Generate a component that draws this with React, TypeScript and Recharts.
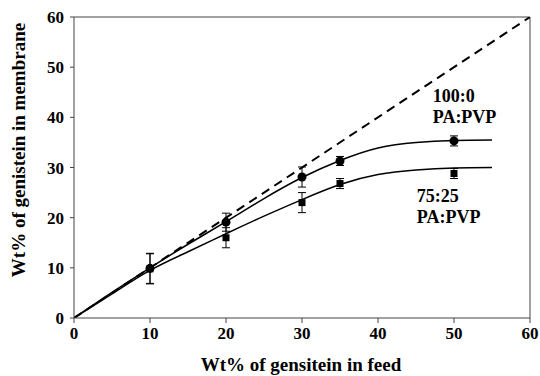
import {
  ComposedChart, Line, Scatter, ErrorBar, XAxis, YAxis, ReferenceLine, ReferenceDot, Label,
} from 'recharts';

// measured points, feed wt% vs membrane wt%
const feedPct = [10, 20, 30, 35, 50];
const pa100 = [9.9, 19.1, 28.1, 31.3, 35.3];
const pa100Err = [3, 1.8, 2, 0.9, 1];
const pa75 = [9.8, 16, 23, 26.8, 28.8];
const pa75Err = [3, 2, 2, 1, 1];

// fitted curves
const fitX = [0, 5, 10, 15, 20, 25, 30, 35, 40, 45, 50, 55];
const fit100 = [0, 5.1, 10, 14.7, 19.2, 23.8, 28, 31.4, 33.9, 35.0, 35.4, 35.5];
const fit75 = [0, 4.8, 9.5, 13.2, 16.8, 20.3, 23.6, 26.6, 28.6, 29.5, 29.9, 30.0];

// 1:1 reference line
const diagX = [0, 60];
const diagY = [0, 60];

const ticks = [0, 10, 20, 30, 40, 50, 60];

const pts = (ys: number[], errs: number[]) => feedPct.map((x, i) => ({ x, y: ys[i], err: errs[i] }));
const curve = (xs: number[], ys: number[]) => xs.map((x, i) => ({ x, y: ys[i] }));

const FONT = '"Liberation Serif", "Times New Roman", serif';
const tickStyle = { fill: '#000', fontSize: 17, fontWeight: 700, fontFamily: FONT };
const AXIS = '#444';

const Dot = (p: any) => <circle cx={p.cx} cy={p.cy} r={4.5} fill="#000" />;
const Sq = (p: any) => <rect x={p.cx - 3.5} y={p.cy - 3.5} width={7} height={7} fill="#000" />;

const note = (lines: string[]) => (p: any) => {
  const { x, y } = p.viewBox;
  return (
    <text x={x} y={y} fontFamily={FONT} fontWeight={700} fontSize={18} fill="#000">
      {lines.map((t, i) => (
        <tspan key={i} x={x} dy={i === 0 ? 0 : 21}>{t}</tspan>
      ))}
    </text>
  );
};

export default function App() {
  return (
    <div style={{ position: 'absolute', left: 0, top: 0 }}>
      <ComposedChart width={540} height={376} margin={{ top: 17, right: 10, bottom: 0, left: 14 }}>
        <XAxis
          type="number" dataKey="x" domain={[0, 60]} ticks={ticks} height={58}
          axisLine={{ stroke: AXIS }} tickLine={{ stroke: AXIS }} tickSize={5} tickMargin={4}
          tick={tickStyle} allowDataOverflow
        >
          <Label
            content={() => (
              <text x={301} y={371} textAnchor="middle" fontFamily={FONT} fontWeight={700} fontSize={19}>
                Wt% of gensitein in feed
              </text>
            )}
          />
        </XAxis>
        <YAxis
          type="number" dataKey="y" domain={[0, 60]} ticks={ticks} width={60}
          axisLine={{ stroke: AXIS }} tickLine={{ stroke: AXIS }} tickSize={4} tickMargin={6}
          tick={tickStyle} allowDataOverflow
        >
          <Label
            content={() => (
              <text
                x={25} y={150} textAnchor="middle" transform="rotate(-90 25 150)"
                fontFamily={FONT} fontWeight={700} fontSize={19}
              >
                Wt% of genistein in membrane
              </text>
            )}
          />
        </YAxis>

        <ReferenceLine y={60} stroke={AXIS} />
        <ReferenceLine x={60} stroke={AXIS} />

        <Line
          data={curve(diagX, diagY)} dataKey="y" type="linear" stroke="#000" strokeWidth={2}
          strokeDasharray="9 6" dot={false} isAnimationActive={false}
        />
        <Line
          data={curve(fitX, fit100)} dataKey="y" type="natural" stroke="#000" strokeWidth={1.5}
          dot={false} isAnimationActive={false}
        />
        <Line
          data={curve(fitX, fit75)} dataKey="y" type="natural" stroke="#000" strokeWidth={1.5}
          dot={false} isAnimationActive={false}
        />

        <Scatter data={pts(pa100, pa100Err)} dataKey="y" shape={Dot} isAnimationActive={false}>
          <ErrorBar dataKey="err" direction="y" width={4} stroke="#000" strokeWidth={1} />
        </Scatter>
        <Scatter data={pts(pa75, pa75Err)} dataKey="y" shape={Sq} isAnimationActive={false}>
          <ErrorBar dataKey="err" direction="y" width={4} stroke="#000" strokeWidth={1} />
        </Scatter>

        <ReferenceDot x={47.2} y={43.1} r={0} stroke="none" label={note(['100:0', 'PA:PVP'])} />
        <ReferenceDot x={45.1} y={23.2} r={0} stroke="none" label={note(['75:25', 'PA:PVP'])} />
      </ComposedChart>
    </div>
  );
}
